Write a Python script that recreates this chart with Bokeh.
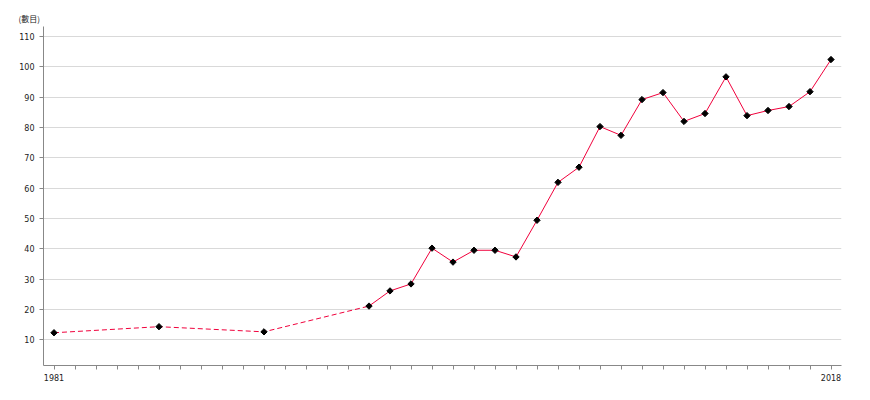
import math
from bokeh.plotting import figure
from bokeh.models import FixedTicker, Range1d
from bokeh.embed import file_html
from bokeh.resources import INLINE

years = [1981, 1986, 1991, 1996, 1997, 1998, 1999, 2000, 2001, 2002, 2003, 2004,
         2005, 2006, 2007, 2008, 2009, 2010, 2011, 2012, 2013, 2014, 2015, 2016,
         2017, 2018]
values = [12.3, 14.3, 12.6, 21.1, 26.1, 28.4, 40.2, 35.6, 39.5, 39.5, 37.3, 49.4,
          61.9, 66.9, 80.3, 77.4, 89.2, 91.5, 82.0, 84.6, 96.7, 83.9, 85.6, 86.9,
          91.8, 102.4]
y_ticks = [10, 20, 30, 40, 50, 60, 70, 80, 90, 100, 110]
x_labels = {1981: "1981", 2018: "2018"}
unit_label = "(數目)"

FONT = "DejaVu Sans"

p = figure(width=866, height=392, output_backend="svg", toolbar_location=None,
           x_range=Range1d(1980.5, 2018.5), y_range=Range1d(1.5, 113.3),
           min_border_left=43, min_border_right=25, min_border_top=26,
           min_border_bottom=27)
p.outline_line_color = None
p.background_fill_color = "white"

p.title.text = unit_label
p.title.align = "left"
p.title.offset = -25
p.title.text_font = "Noto Sans CJK TC"
p.title.text_font_size = "8px"
p.title.text_font_style = "normal"
p.title.text_color = "#222222"
p.title.standoff = 5

# dashed segment where yearly data is missing
split = years.index(1996)
p.line(years[:split + 1], values[:split + 1], line_color="#f0003c", line_width=1,
       line_dash="5 3")
p.line(years[split:], values[split:], line_color="#f0003c", line_width=1)
p.scatter(years, values, marker="square", size=4.5, angle=math.pi / 4,
          color="black", line_width=1)

p.xgrid.grid_line_color = None
p.ygrid.grid_line_color = "#d9d9d9"
p.ygrid.ticker = FixedTicker(ticks=y_ticks)

p.xaxis.ticker = FixedTicker(ticks=list(range(1981, 2019)))
p.xaxis.major_label_overrides = {y: x_labels.get(y, "") for y in range(1981, 2019)}
p.yaxis.ticker = FixedTicker(ticks=y_ticks)

for ax in (p.xaxis, p.yaxis):
    ax.axis_line_color = "#888888"
    ax.major_tick_line_color = "#888888"
    ax.minor_tick_line_color = None
    ax.major_tick_in = 0
    ax.major_tick_out = 4
    ax.major_label_text_font = FONT
    ax.major_label_text_font_size = "8px"
    ax.major_label_text_color = "#222222"
p.xaxis.major_label_standoff = 4
p.yaxis.major_label_standoff = 5

open("out.html", "w").write(file_html(p, INLINE))
